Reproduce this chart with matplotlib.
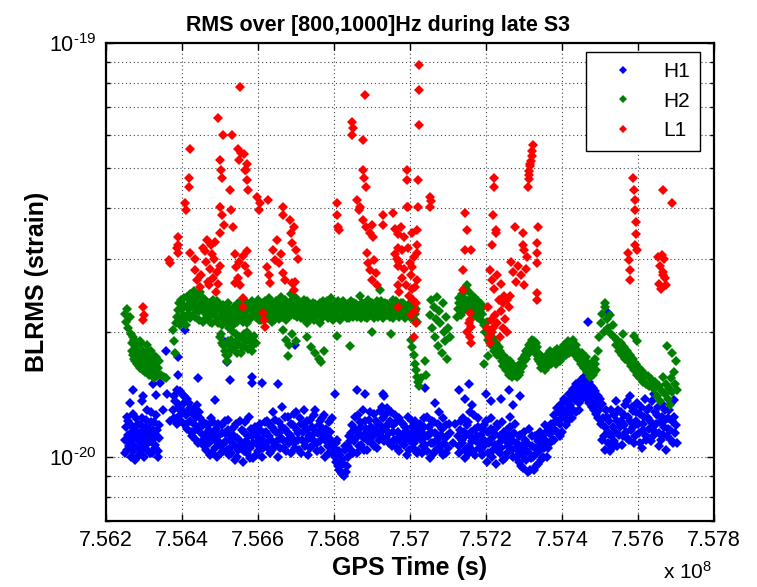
import math
import matplotlib
matplotlib.use('Agg')
import matplotlib.pyplot as plt
from matplotlib.ticker import FixedLocator, FuncFormatter, NullFormatter, LogLocator

plt.rcParams['font.family'] = ['Liberation Sans', 'DejaVu Sans']
plt.rcParams['mathtext.fontset'] = 'custom'
plt.rcParams['mathtext.rm'] = 'Liberation Sans'
plt.rcParams['mathtext.it'] = 'Liberation Sans:italic'
plt.rcParams['mathtext.bf'] = 'Liberation Sans:bold'
plt.rcParams['mathtext.default'] = 'regular'
plt.rcParams['lines.scale_dashes'] = False

# GPS time reference (in ks); times below are offsets in ks, BLRMS in units of 1e-20 strain
GPS_T0_KS = 756200

H1_POINTS = [
    (50,1.10),(53,1.18),(56,1.04),(59,1.22),(62,1.08),(65,1.00),(68,1.15),(71,1.27),(74,1.06),(77,1.12),
    (80,0.99),(83,1.20),(86,1.09),(89,1.14),(92,1.03),(95,1.24),(98,1.11),(101,1.06),(104,1.18),(107,1.30),
    (110,1.08),(113,1.13),(116,1.02),(119,1.21),(122,1.10),(125,1.16),(128,1.05),(131,1.26),(134,1.12),(137,1.03),(140,1.19),
    (51,1.02),(54,1.25),(57,1.13),(60,1.06),(64,1.20),(67,1.09),(70,1.03),(73,1.17),(76,1.11),(79,1.24),(82,1.05),
    (85,1.14),(88,1.01),(91,1.19),(94,1.08),(97,1.15),(100,1.00),(103,1.12),(106,1.23),(109,1.04),(112,1.17),
    (115,1.09),(118,1.28),(121,1.02),(124,1.14),(127,1.21),(130,1.07),(133,1.16),(136,1.00),(139,1.11),
    (63,1.35),(71,1.45),(95,1.36),(98,1.40),(124,1.50),(76,0.98),(132,1.41),
    (142,1.51),(158,1.80),(161,1.42),(150,1.30),(168,1.22),
    (176,1.30),(180,1.40),(184,1.22),(188,1.45),(192,1.33),(196,1.26),(200,1.42),(204,1.35),(208,1.19),(212,1.38),(216,1.28),(220,1.31),
    (224,1.15),(228,1.27),(232,1.20),(236,1.10),(240,1.33),(244,1.18),(248,1.24),(252,1.09),(256,1.21),
    (260,1.13),(264,1.04),(268,1.19),(272,1.08),(276,1.24),(280,1.02),(284,1.15),(288,1.10),(292,1.00),(296,1.20),
    (300,1.07),(304,1.14),(308,1.03),(312,1.22),(316,1.09),(320,1.16),(324,1.01),(328,1.12),
    (332,1.06),(336,1.18),(340,0.98),(344,1.11),(348,1.04),(352,1.22),(356,1.07),(360,0.97),(364,1.15),(368,1.09),
    (372,1.02),(376,1.25),(380,1.05),(384,1.12),(388,0.99),(392,1.18),(396,1.08),(400,1.03),(404,1.20),(408,1.10),(412,1.05),(416,1.14),
    (420,1.08),(424,1.22),(428,1.12),(432,1.02),(436,1.18),(440,1.28),(444,1.07),(448,1.15),(452,1.00),(456,1.21),
    (460,1.11),(464,1.32),(468,1.05),(472,1.17),(476,1.09),(480,1.25),(484,1.13),(488,1.02),(492,1.19),(496,1.08),
    (500,1.28),(504,1.14),(508,1.04),(512,1.20),(516,1.10),(520,1.30),(524,1.06),(528,1.16),(532,1.01),(536,1.23),
    (540,1.12),(544,1.07),(548,1.26),(552,1.15),(556,1.03),(560,1.19),(564,1.09),(568,1.24),(572,1.13),(576,1.00),
    (580,1.17),(584,1.06),(588,1.21),(592,1.10),(596,1.02),
    (600,1.05),(604,0.97),(608,1.10),(612,0.93),(616,1.01),(620,0.91),(624,0.96),(628,1.06),(632,0.92),(636,1.00),(640,1.12),
    (644,1.04),(648,1.19),(652,1.09),(656,1.25),(660,1.02),(664,1.14),(668,1.21),(672,1.07),(676,1.30),(680,1.11),
    (684,1.17),(688,1.04),(692,1.23),(696,1.13),(700,1.08),(704,1.27),(708,1.16),(712,1.05),(716,1.20),(720,1.29),
    (724,1.12),(728,1.24),(732,1.09),(736,1.18),(740,1.31),(744,1.14),(748,1.22),(752,1.06),(756,1.19),(760,1.26),
    (764,1.10),(768,1.15),(772,1.03),(776,1.21),(780,1.12),(784,1.07),(788,1.18),(792,1.01),(796,1.14),(800,1.09),
    (804,1.22),(808,1.05),(812,1.16),(816,1.11),(820,1.03),(824,1.19),
    (178,1.24),(182,1.36),(186,1.20),(190,1.31),(194,1.44),(198,1.22),(202,1.29),(206,1.40),(210,1.26),(214,1.17),(218,1.35),
    (222,1.22),(226,1.12),(230,1.30),(234,1.16),(238,1.25),(242,1.08),(246,1.28),(250,1.14),(254,1.19),(258,1.06),
    (262,1.20),(266,1.10),(270,1.16),(274,1.01),(278,1.12),(282,1.21),(286,1.05),(290,1.17),(294,1.09),(298,1.13),
    (302,1.02),(306,1.19),(310,1.08),(314,1.14),(318,1.04),(322,1.23),(326,1.10),
    (330,1.02),(334,1.13),(338,1.07),(342,1.20),(346,1.00),(350,1.10),(354,1.05),(358,1.16),(362,1.03),(366,1.21),
    (370,1.06),(374,1.12),(378,0.99),(382,1.17),(386,1.08),(390,1.14),(394,1.01),(398,1.12),(402,1.06),(406,1.16),
    (410,1.00),(414,1.10),(418,1.21),
    (422,1.15),(426,1.05),(430,1.20),(434,1.10),(438,1.04),(442,1.16),(446,1.23),(450,1.09),(454,1.14),(458,1.05),
    (462,1.18),(466,1.10),(470,1.25),(474,1.03),(478,1.14),(482,1.08),(486,1.20),(490,1.11),(494,1.27),(498,1.05),
    (502,1.16),(506,1.10),(510,1.24),(514,1.02),(518,1.15),(522,1.19),(526,1.09),(530,1.22),(534,1.12),(538,1.05),
    (542,1.18),(546,1.10),(550,1.30),(554,1.08),(558,1.14),(562,1.22),(566,1.04),(570,1.17),(574,1.26),(578,1.09),
    (582,1.13),(586,1.02),(590,1.15),(594,1.24),(598,1.08),
    (602,1.00),(606,1.08),(610,0.95),(614,1.03),(618,0.92),(622,0.98),(626,0.90),(630,1.04),(634,0.95),(638,1.06),
    (642,1.09),(646,1.14),(650,1.02),(654,1.17),(658,1.11),(662,1.26),(666,1.06),(670,1.18),(674,1.12),(678,1.04),
    (682,1.22),(686,1.15),(690,1.09),(694,1.28),(698,1.18),(702,1.12),(706,1.06),(710,1.22),(714,1.14),(718,1.10),
    (722,1.19),(726,1.32),(730,1.16),(734,1.26),(738,1.11),(742,1.20),(746,1.08),(750,1.28),(754,1.15),(758,1.10),
    (762,1.21),(766,1.05),(770,1.24),(774,1.13),(778,1.08),(782,1.20),(786,1.15),(790,1.10),(794,1.25),(798,1.04),
    (802,1.13),(806,1.18),(810,1.08),(814,1.22),(818,1.02),(822,1.12),(826,1.20),
    (189,1.74),(189,1.58),(208,2.03),(242,1.55),(287,1.37),(326,1.53),(313,1.89),(318,1.69),(384,1.56),(384,1.51),
    (411,1.51),(453,1.50),(497,1.86),(603,1.42),(661,1.45),(729,1.42),(682,1.42),(731,1.40),
    (828,1.10),(832,1.02),(836,1.18),(840,1.07),(844,1.25),(848,1.12),(852,0.99),(856,1.15),(860,1.08),(864,1.21),
    (868,1.04),(872,1.13),(876,1.28),(880,1.06),(884,1.17),(888,1.01),(892,1.11),(896,1.19),(900,1.05),(904,1.14),
    (830,1.15),(834,1.06),(838,1.24),(842,1.12),(846,1.03),(850,1.18),(854,1.08),(858,1.22),(862,1.02),(866,1.14),
    (870,1.10),(874,1.20),(878,1.04),(882,1.13),(886,1.24),(890,1.08),(894,1.02),(898,1.12),(902,1.20),
    (866,1.35),(839,1.47),(912,1.08),(918,1.20),
    (926,1.12),(930,1.02),(934,1.22),(938,1.08),(942,1.15),(946,0.99),(950,1.19),(954,1.06),(958,1.28),(962,1.11),
    (966,1.03),(970,1.17),(974,1.09),(978,1.24),(982,1.05),
    (930,1.45),(945,1.38),(955,1.50),(962,1.33),
    (986,1.13),(990,1.01),(994,1.19),(998,1.07),(1002,0.97),(1006,1.15),(1010,1.10),(1014,1.24),(1018,1.04),(1022,1.12),
    (1026,0.96),(1030,1.18),(1034,1.08),(1038,1.02),(1042,1.21),(1046,1.11),(1050,0.99),(1054,1.16),(1058,1.06),(1062,1.25),
    (1066,1.09),(1070,1.00),(1074,1.14),(1078,1.05),
    (1000,1.42),(1012,1.36),(1040,1.38),(1060,1.45),(1072,1.33),(1090,1.40),
    (1082,1.08),(1086,0.97),(1090,1.13),(1094,1.01),(1098,0.94),(1102,1.10),(1106,1.04),(1110,0.92),(1114,1.17),(1118,0.99),
    (1122,1.06),(1126,0.93),(1130,1.12),(1134,1.02),(1138,0.96),(1142,1.15),(1146,1.07),(1150,1.00),(1154,1.19),(1158,1.09),
    (1162,1.05),(1166,1.14),(1170,1.20),(1174,1.10),(1178,1.26),(1182,1.16),(1186,1.31),(1190,1.22),(1194,1.12),(1198,1.34),
    (1202,1.25),(1206,1.38),(1210,1.19),(1214,1.30),(1218,1.42),(1222,1.33),(1226,1.24),(1230,1.46),(1234,1.37),(1238,1.50),
    (1242,1.41),(1246,1.30),(1250,1.53),(1254,1.44),(1258,1.56),
    (1262,1.48),(1266,1.38),(1270,1.52),(1274,1.42),(1278,1.32),(1282,1.47),(1286,1.36),(1290,1.27),(1294,1.40),(1298,1.30),
    (1302,1.20),(1306,1.34),(1310,1.12),(1314,1.04),(1318,1.25),(1322,1.15),(1326,1.03),(1330,1.30),(1334,1.18),(1338,1.09),
    (1342,1.36),(1346,1.22),(1350,1.13),(1354,1.28),(1358,1.07),
    (1362,1.19),(1366,1.33),(1370,1.11),(1374,1.25),(1378,1.40),(1382,1.16),(1386,1.29),(1390,1.08),(1394,1.22),(1398,1.35),
    (1402,1.14),(1406,1.27),(1410,1.05),(1414,1.20),(1418,1.38),(1422,1.12),(1426,1.24),(1430,1.31),(1434,1.09),(1438,1.18),
    (1442,1.42),(1446,1.15),(1450,1.26),(1454,1.06),(1458,1.21),(1462,1.34),(1466,1.13),(1470,1.23),(1474,1.04),(1478,1.17),
    (1482,1.30),(1486,1.10),(1490,1.22),(1494,1.37),(1498,1.14),(1502,1.08),
    (928,1.06),(932,1.16),(936,1.10),(940,1.24),(944,1.04),(948,1.13),(952,1.21),(956,1.02),(960,1.15),(964,1.09),
    (968,1.26),(972,1.01),(976,1.12),(980,1.18),(984,1.08),
    (988,1.04),(992,1.16),(996,1.10),(1000,1.22),(1004,1.02),(1008,1.08),(1012,1.17),(1016,1.00),(1020,1.14),(1024,1.07),
    (1028,1.20),(1032,1.03),(1036,1.12),(1040,1.05),(1044,0.98),(1048,1.15),(1052,1.09),(1056,1.02),(1060,1.12),(1064,1.18),
    (1068,1.04),(1072,1.09),(1076,1.20),(1080,1.00),
    (1084,1.04),(1088,1.12),(1092,0.95),(1096,1.06),(1100,1.15),(1104,0.98),(1108,1.08),(1112,1.02),(1116,0.93),(1120,1.12),
    (1124,1.00),(1128,1.05),(1132,0.95),(1136,1.09),(1140,1.03),(1144,0.98),(1148,1.12),(1152,1.05),(1156,1.14),(1160,1.00),
    (1164,1.18),(1168,1.08),(1172,1.14),(1176,1.20),(1180,1.10),(1184,1.22),(1188,1.15),(1192,1.28),(1196,1.20),(1200,1.15),
    (1204,1.30),(1208,1.26),(1212,1.35),(1216,1.22),(1220,1.28),(1224,1.38),(1228,1.30),(1232,1.40),(1236,1.28),(1240,1.44),
    (1244,1.35),(1248,1.48),(1252,1.38),(1256,1.50),
    (1260,1.42),(1264,1.54),(1268,1.45),(1272,1.35),(1276,1.48),(1280,1.40),(1284,1.30),(1288,1.44),(1292,1.34),(1296,1.24),(1300,1.38),
    (1304,1.10),(1308,1.24),(1312,1.18),(1316,1.30),(1320,1.08),(1324,1.22),(1328,1.12),(1332,1.05),(1336,1.26),(1340,1.15),
    (1344,1.06),(1348,1.30),(1352,1.18),(1356,1.22),(1360,1.12),
    (1364,1.26),(1368,1.15),(1372,1.36),(1376,1.10),(1380,1.22),(1384,1.32),(1388,1.18),(1392,1.12),(1396,1.28),(1400,1.20),
    (1404,1.08),(1408,1.32),(1412,1.16),(1416,1.25),(1420,1.10),(1424,1.30),(1428,1.17),(1432,1.22),(1436,1.36),(1440,1.12),
    (1444,1.28),(1448,1.20),(1452,1.32),(1456,1.14),(1460,1.10),(1464,1.25),(1468,1.18),(1472,1.30),(1476,1.12),(1480,1.24),
    (1484,1.16),(1488,1.35),(1492,1.08),(1496,1.25),(1500,1.19),
    (1268,2.12),(1320,2.23),
]

H2_POINTS = [
    (50,2.22),(53,2.12),(56,2.28),(59,2.05),(62,2.18),(65,1.98),
    (68,1.88),(71,1.76),(74,1.92),(77,1.70),(80,1.84),(83,1.78),(86,1.66),(89,1.90),(92,1.73),(95,1.81),
    (98,1.62),(101,1.75),(104,1.68),(107,1.86),(110,1.60),(113,1.72),(116,1.65),(119,1.80),(122,1.58),(125,1.69),
    (128,1.62),(131,1.74),(134,1.57),(137,1.64),(140,1.70),(145,1.58),(152,1.56),(158,1.55),
    (69,1.80),(72,1.95),(75,1.72),(78,1.86),(81,1.68),(84,1.82),(87,1.75),(90,1.64),(93,1.88),(96,1.70),(99,1.78),
    (102,1.60),(105,1.74),(108,1.66),(111,1.80),(114,1.58),(117,1.70),(120,1.62),(123,1.76),(126,1.55),(129,1.66),(132,1.60),(135,1.70),
    (176,2.02),(178,1.90),(181,1.78),(184,2.10),
    (188,2.18),(192,2.35),(196,2.08),(200,2.28),(204,2.42),(208,2.15),(212,2.31),(216,2.22),(220,2.48),(224,2.38),
    (228,2.20),(232,2.52),(236,2.30),(240,2.44),(244,2.25),(248,2.50),(252,2.34),(256,2.12),(260,2.40),(264,2.27),
    (268,2.18),(272,2.36),(276,2.22),(280,2.10),(284,2.30),(288,2.19),(292,2.38),(296,2.14),(300,2.26),(304,2.08),
    (308,2.33),(312,2.20),(316,2.12),(320,2.28),(324,2.05),(328,2.22),(332,2.15),(336,2.30),(340,2.10),(344,2.24),
    (348,2.36),(352,2.18),(356,2.28),(360,2.12),(364,2.40),(368,2.22),(372,2.32),(376,2.15),(380,2.26),(384,2.38),(388,2.20),
    (190,2.26),(194,2.12),(198,2.40),(202,2.20),(206,2.32),(210,2.08),(214,2.44),(218,2.28),(222,2.16),(226,2.34),
    (230,2.40),(234,2.18),(238,2.28),(242,2.36),(246,2.14),(250,2.30),(254,2.42),(258,2.24),(262,2.16),(266,2.34),
    (270,2.26),(274,2.12),(278,2.30),(282,2.40),(286,2.20),(290,2.28),(294,2.10),(298,2.34),(302,2.18),(306,2.24),
    (310,2.12),(314,2.30),(318,2.22),(322,2.36),(326,2.14),(330,2.26),(334,2.08),(338,2.20),(342,2.32),(346,2.12),
    (350,2.28),(354,2.22),(358,2.36),(362,2.18),(366,2.30),(370,2.10),(374,2.26),(378,2.34),(382,2.16),(386,2.28),(390,2.24),
    (300,1.95),(306,1.88),(312,1.80),(318,1.70),(322,1.76),(326,1.85),(330,1.92),(336,1.82),(342,1.98),(348,1.87),
    (354,1.78),(360,1.93),(366,1.84),(372,2.00),(378,1.90),(384,1.80),(390,1.96),(396,1.88),
    (303,1.98),(309,1.86),(315,1.76),(321,1.90),(327,1.80),(333,2.00),(339,1.88),(345,1.78),(351,1.94),(357,1.84),
    (363,1.98),(369,1.90),(375,1.82),(381,1.95),(387,1.86),
    (392,2.30),(396,2.18),(400,2.40),(404,2.25),(408,2.14),(412,2.35),(416,2.22),(420,2.30),(424,2.16),(428,2.42),
    (432,2.26),(436,2.12),(440,2.34),(444,2.20),(448,2.38),(452,2.28),(456,2.15),(460,2.44),(464,2.30),(468,2.22),
    (472,2.40),(476,2.25),(480,2.18),(484,2.36),(488,2.48),(492,2.30),(496,2.20),(500,2.42),(504,2.26),(508,2.34),
    (512,2.16),(516,2.28),(520,2.40),(524,2.22),(528,2.10),(532,2.30),(536,2.18),(540,2.26),(544,2.36),(548,2.14),
    (552,2.24),(556,2.32),(560,2.20),(564,2.10),(568,2.28),(572,2.38),(576,2.22),(580,2.30),(584,2.16),(588,2.34),
    (592,2.42),(596,2.26),(600,2.18),(604,2.36),(608,2.24),(612,2.30),(616,2.14),(620,2.28),(624,2.38),(628,2.20),
    (632,2.32),(636,2.26),(640,2.16),(644,2.30),(648,2.22),(652,2.36),(656,2.28),(660,2.18),(664,2.32),(668,2.45),
    (672,2.26),(676,2.20),(680,2.34),(684,2.24),(688,2.16),(692,2.30),(696,2.26),(700,2.36),(704,2.20),(708,2.28),
    (712,2.32),(716,2.18),(720,2.26),(724,2.38),(728,2.24),(732,2.30),(736,2.20),(740,2.34),(744,2.26),(748,2.18),
    (752,2.30),(756,2.40),(760,2.24),(764,2.32),(768,2.20),(772,2.28),(776,2.36),(780,2.22),(784,2.30),(788,2.16),
    (792,2.26),(796,2.30),(800,2.18),(804,2.36),(808,2.22),(812,2.14),(816,2.28),
    (394,2.36),(398,2.22),(402,2.14),(406,2.30),(410,2.26),(414,2.18),(418,2.38),(422,2.24),(426,2.30),(430,2.20),
    (434,2.36),(438,2.26),(442,2.14),(446,2.30),(450,2.22),(454,2.34),(458,2.26),(462,2.18),(466,2.32),(470,2.24),
    (474,2.14),(478,2.34),(482,2.28),(486,2.20),(490,2.40),(494,2.24),(498,2.32),(502,2.18),(506,2.28),(510,2.36),
    (514,2.24),(518,2.16),(522,2.32),(526,2.26),(530,2.38),(534,2.22),(538,2.30),(542,2.16),(546,2.28),(550,2.34),
    (554,2.20),(558,2.26),(562,2.36),(566,2.22),(570,2.18),(574,2.30),(578,2.24),(582,2.38),(586,2.26),(590,2.20),
    (594,2.32),(598,2.14),(602,2.28),(606,2.20),(610,2.38),(614,2.26),(618,2.32),(622,2.18),(626,2.30),(630,2.24),
    (634,2.16),(638,2.34),(642,2.24),(646,2.38),(650,2.18),(654,2.26),(658,2.34),(662,2.22),(666,2.30),(670,2.16),
    (674,2.36),(678,2.28),(682,2.18),(686,2.32),(690,2.40),(694,2.20),(698,2.28),(702,2.32),(706,2.16),(710,2.24),
    (714,2.38),(718,2.28),(722,2.20),(726,2.30),(730,2.16),(734,2.36),(738,2.26),(742,2.20),(746,2.32),(750,2.24),
    (754,2.16),(758,2.30),(762,2.38),(766,2.26),(770,2.18),(774,2.32),(778,2.24),(782,2.36),(786,2.20),(790,2.30),
    (794,2.22),(798,2.34),(802,2.26),(806,2.16),(810,2.30),(814,2.22),(818,2.12),
    (466,2.02),(474,1.92),(482,1.86),(490,1.98),(500,1.90),(530,1.95),(540,1.84),(550,1.78),(560,1.72),(566,1.69),
    (575,1.80),(608,1.96),(642,1.85),(700,2.00),(721,2.53),(750,1.98),(480,1.75),
    (802,1.92),(806,1.84),(810,1.76),(813,1.68),(816,1.62),(819,1.56),(822,1.52),(825,1.48),(828,1.55),(840,1.70),(843,1.58),
    (853,2.20),(856,2.40),(859,2.05),(862,2.30),(865,1.95),(868,2.15),(871,2.44),(874,1.85),(877,2.25),(880,2.10),
    (883,1.78),(886,2.35),(889,2.00),(892,1.90),(895,2.18),(898,1.72),(901,2.05),(904,1.95),
    (924,2.18),(928,2.36),(932,2.26),(936,2.48),(940,2.32),(944,2.56),(948,2.40),(952,2.28),(956,2.50),(960,2.36),
    (964,2.22),(968,2.44),(972,2.30),(976,2.18),(980,2.38),(984,2.24),(988,2.14),(992,2.30),
    (926,2.28),(930,2.42),(934,2.20),(938,2.36),(942,2.26),(946,2.40),(950,2.60),(954,2.34),(958,2.24),(962,2.44),
    (966,2.30),(970,2.20),(974,2.40),(978,2.26),(982,2.16),(986,2.34),(990,2.22),
    (994,2.08),(998,2.00),(1002,2.12),(1006,1.92),(1010,1.98),(1014,1.86),(1018,1.94),(1022,1.80),(1026,1.88),(1030,1.76),
    (1034,1.84),(996,1.68),(1004,1.75),
    (1038,1.80),(1042,1.70),(1046,1.76),(1050,1.66),(1054,1.72),(1058,1.63),(1062,1.70),(1066,1.60),(1070,1.67),(1074,1.58),
    (1078,1.65),(1082,1.56),(1086,1.63),(1090,1.60),(1094,1.69),(1098,1.66),(1102,1.76),(1106,1.72),(1110,1.82),(1114,1.78),
    (1118,1.88),(1122,1.83),(1126,1.90),(1130,1.78),(1134,1.84),(1138,1.72),(1142,1.76),(1146,1.64),(1150,1.70),(1154,1.62),
    (1158,1.72),(1162,1.66),(1166,1.75),(1170,1.68),(1174,1.78),(1178,1.70),(1182,1.80),(1186,1.72),(1190,1.78),(1194,1.70),
    (1198,1.82),(1202,1.74),(1206,1.84),(1210,1.76),(1214,1.86),(1218,1.78),(1222,1.88),(1226,1.80),(1230,1.86),(1234,1.76),
    (1238,1.82),(1242,1.72),(1246,1.78),(1250,1.68),(1254,1.74),(1258,1.64),(1262,1.70),(1266,1.60),(1270,1.66),(1274,1.56),
    (1278,1.64),(1282,1.58),(1286,1.68),(1290,1.62),
    (1040,1.74),(1044,1.66),(1048,1.72),(1052,1.62),(1056,1.68),(1060,1.58),(1064,1.66),(1068,1.56),(1072,1.64),(1076,1.60),
    (1080,1.62),(1084,1.66),(1088,1.58),(1092,1.64),(1096,1.72),(1100,1.70),(1104,1.80),(1108,1.76),(1112,1.86),(1116,1.82),
    (1120,1.92),(1124,1.86),(1128,1.82),(1132,1.88),(1136,1.78),(1140,1.70),(1144,1.68),(1148,1.74),(1152,1.66),(1156,1.68),
    (1160,1.76),(1164,1.70),(1168,1.80),(1172,1.72),(1176,1.74),(1180,1.76),(1184,1.68),(1188,1.82),(1192,1.74),(1196,1.76),
    (1200,1.78),(1204,1.86),(1208,1.80),(1212,1.82),(1216,1.90),(1220,1.82),(1224,1.84),(1228,1.92),(1232,1.80),(1236,1.86),
    (1240,1.78),(1244,1.74),(1248,1.72),(1252,1.78),(1256,1.68),(1260,1.66),(1264,1.74),(1268,1.64),(1272,1.60),(1276,1.68),
    (1280,1.62),(1284,1.60),(1288,1.72),
    (1294,1.80),(1298,1.95),(1302,2.10),(1306,2.22),(1310,2.00),(1314,2.30),(1318,2.15),(1322,2.05),(1326,2.20),(1330,1.98),
    (1334,2.08),(1312,2.36),
    (1338,1.95),(1342,1.86),(1346,1.92),(1350,1.80),(1354,1.88),(1358,1.76),(1362,1.84),(1366,1.72),(1370,1.80),(1374,1.70),
    (1378,1.76),(1382,1.66),(1386,1.72),(1360,1.98),(1390,1.96),(1398,1.90),
    (1390,1.62),(1394,1.68),(1398,1.58),(1402,1.64),(1406,1.55),(1410,1.61),(1414,1.52),(1418,1.58),(1422,1.50),(1426,1.57),
    (1430,1.48),(1434,1.54),(1438,1.50),
    (1442,1.46),(1446,1.52),(1450,1.40),(1454,1.48),(1458,1.36),(1462,1.44),(1466,1.56),(1470,1.42),(1474,1.50),(1478,1.38),
    (1482,1.47),(1486,1.55),(1490,1.43),(1494,1.60),(1498,1.50),(1502,1.45),(1476,1.85),(1490,1.78),(1500,1.70),(1484,1.33),
]

L1_POINTS = [
    (97,2.30),(97,2.14),(100,2.20),(168,2.94),(166,2.99),
    (189,3.40),(189,3.25),(189,3.11),(187,3.20),(208,4.11),(210,3.95),(218,4.72),(218,4.49),(221,5.55),
    (221,3.11),(234,3.00),(234,2.83),(239,2.68),(247,2.57),(250,2.75),
    (255,3.20),(262,2.95),(266,3.34),(270,2.60),(274,2.85),(278,3.10),(282,2.70),(285,3.00),(290,2.50),(292,2.80),
    (260,3.15),(268,2.65),(276,3.25),(288,3.30),(295,2.62),(300,2.90),
    (295,6.60),(300,5.22),(303,4.94),(305,4.72),(308,6.00),(332,6.00),
    (300,4.02),(305,3.84),(310,3.64),(300,3.48),(326,4.42),(328,3.95),(333,3.59),
    (339,3.10),(342,2.88),(347,2.70),(350,2.95),(352,2.60),(353,7.84),
    (347,5.55),(355,5.43),(350,5.22),(362,5.40),(366,4.94),(370,4.67),(375,4.42),(369,4.94),(372,5.10),
    (360,3.05),(365,2.90),(370,3.15),(375,2.78),(397,4.25),(402,3.95),(405,4.10),
    (339,2.63),(361,2.42),(361,2.30),
    (413,2.23),(416,2.14),(419,2.06),(426,4.18),(424,2.88),(428,2.75),(432,2.63),
    (439,3.16),(445,2.99),(450,3.34),(455,2.94),(460,3.10),(465,2.78),(466,4.02),(466,3.84),(471,2.68),
    (484,3.74),(487,3.48),(490,3.29),(495,3.60),(500,3.16),(505,3.00),(489,2.63),(495,2.53),(498,2.65),
    (608,4.11),(608,3.84),(610,3.60),(612,3.53),(647,6.45),(647,6.00),(650,6.25),
    (661,4.18),(665,3.95),(668,4.02),(676,5.83),(682,7.50),(676,4.94),(680,4.72),(684,4.49),
    (676,3.74),(685,3.59),(695,3.48),(700,3.64),(703,3.40),
    (687,3.11),(690,2.94),(695,2.83),(700,2.68),(705,2.99),(710,2.78),(713,2.60),(729,3.84),(729,3.64),
    (755,3.88),(760,3.55),(768,3.45),(768,3.20),(768,2.90),(768,2.60),(770,2.50),
    (761,3.10),(765,3.00),(772,2.95),(778,3.16),(785,2.85),(792,4.94),(792,4.67),(795,4.02),(768,2.30),
    (800,2.94),(803,2.75),(806,2.55),(808,2.40),(812,2.25),(815,2.10),(818,2.68),(803,2.20),(810,1.95),
    (825,8.86),(824,7.71),(824,6.34),(821,4.67),(792,4.02),(821,4.02),
    (776,3.59),(785,3.40),(795,3.20),(805,3.48),(810,3.04),(818,3.53),(818,3.25),(818,3.11),
    (778,2.70),(790,2.60),(798,2.45),(805,2.88),(812,2.57),(815,2.35),
    (853,4.25),(853,4.02),(856,4.15),
    (945,3.88),(950,3.53),(945,3.16),(960,3.16),(940,2.83),(940,2.53),(958,2.23),(958,2.14),(960,2.06),
    (955,2.10),(958,1.95),(960,1.88),(950,2.00),
    (1021,4.72),(1021,4.49),(1018,3.84),(1026,3.53),(1026,3.48),(1016,3.25),
    (1010,2.83),(1016,2.68),(1022,2.55),(1030,2.75),(1040,2.62),(1048,2.45),(1055,2.39),
    (1005,2.30),(1012,2.14),(1018,2.05),(1024,2.20),(1030,2.10),(1036,1.95),(1040,2.25),(1045,2.35),(1050,2.15),
    (1055,2.00),(1060,2.30),(1063,2.45),(1003,2.05),(1008,1.95),(1010,1.88),(1015,2.00),(1034,2.40),(1044,2.05),
    (1076,3.59),(1097,3.48),(1097,3.25),(1100,3.16),
    (1065,2.95),(1070,2.80),(1078,2.65),(1085,2.90),(1092,2.75),(1100,2.60),(1105,2.85),(1108,3.04),
    (1110,4.50),(1112,4.70),(1114,4.90),(1116,5.05),(1118,5.20),(1120,5.35),(1122,5.50),(1124,5.68),(1113,4.80),(1117,5.10),
    (1137,3.59),(1134,3.29),(1134,3.11),(1134,2.94),(1134,2.49),(1134,2.39),
    (1374,3.11),(1377,2.99),(1379,2.83),(1379,2.68),
    (1387,4.72),(1390,4.42),(1392,4.18),(1392,3.95),(1395,3.70),(1395,3.45),(1392,3.25),(1397,3.16),
    (1452,3.04),(1458,2.90),(1462,3.08),(1466,2.80),(1470,2.70),(1455,2.62),(1460,2.55),(1465,2.75),(1474,2.60),(1468,3.00),
    (1466,4.42),(1489,4.11),
]

SERIES = [('H1', H1_POINTS, (0, 0, 1)), ('H2', H2_POINTS, (0, 0.5, 0)), ('L1', L1_POINTS, (1, 0, 0))]
XTICKS = [7.562, 7.564, 7.566, 7.568, 7.570, 7.572, 7.574, 7.576, 7.578]


def y_label(y, pos):
    e = abs(round(math.log10(y)))
    return '$10^{\u2010' + str(e) + '}$'


fig = plt.figure(figsize=(7.57, 5.87), dpi=100)
ax = fig.add_axes([0.140, 0.1129, 0.8032, 0.8133])

for name, pts, col in SERIES:
    t = [(GPS_T0_KS + p[0]) / 1e5 for p in pts]
    v = [p[1] * 1e-20 for p in pts]
    ax.plot(t, v, linestyle='none', marker='D', markersize=5.3, markeredgewidth=0,
            color=col, label=name)

ax.set_yscale('log')
ax.set_xlim(7.562, 7.578)
ax.set_ylim(7e-21, 1e-19)
ax.xaxis.set_major_locator(FixedLocator(XTICKS))
ax.xaxis.set_major_formatter(FuncFormatter(lambda x, p: ('%.3f' % x).rstrip('0')))
ax.yaxis.set_major_locator(FixedLocator([1e-20, 1e-19]))
ax.yaxis.set_major_formatter(FuncFormatter(y_label))
ax.yaxis.set_minor_locator(LogLocator(base=10, subs=(2, 3, 4, 5, 6, 7, 8, 9)))
ax.yaxis.set_minor_formatter(NullFormatter())

ax.tick_params(which='both', direction='in', top=True, right=True, width=1.0, colors='black')
ax.tick_params(which='major', length=5, labelsize=15.5, pad=7)
ax.tick_params(which='minor', length=3)
for s in ax.spines.values():
    s.set_linewidth(1.6)
ax.grid(True, which='both', axis='y', color='#444444', linestyle=(0, (0.8, 2.0)), linewidth=0.8)
ax.grid(True, which='major', axis='x', color='#444444', linestyle=(0, (0.8, 2.0)), linewidth=0.8)

ax.set_title('RMS over [800,1000]Hz during late S3', fontsize=15.5, fontweight='bold', pad=9, x=0.447)
ax.set_xlabel('GPS Time (s)', fontsize=18, fontweight='bold', labelpad=3)
ax.set_ylabel('BLRMS (strain)', fontsize=18, fontweight='bold', labelpad=0)
fig.text(0.941, 0.008, r'x 10$^{8}$', fontsize=15, ha='right', va='bottom')

leg = ax.legend(loc='upper right', bbox_to_anchor=(0.977, 0.982), borderaxespad=0, fontsize=15,
                markerscale=0.7, handlelength=2.6, handletextpad=0.6, labelspacing=0.5,
                borderpad=0.5, fancybox=False, framealpha=1, edgecolor='black')
leg.get_frame().set_linewidth(1.0)

fig.savefig('out.png', dpi=100)
